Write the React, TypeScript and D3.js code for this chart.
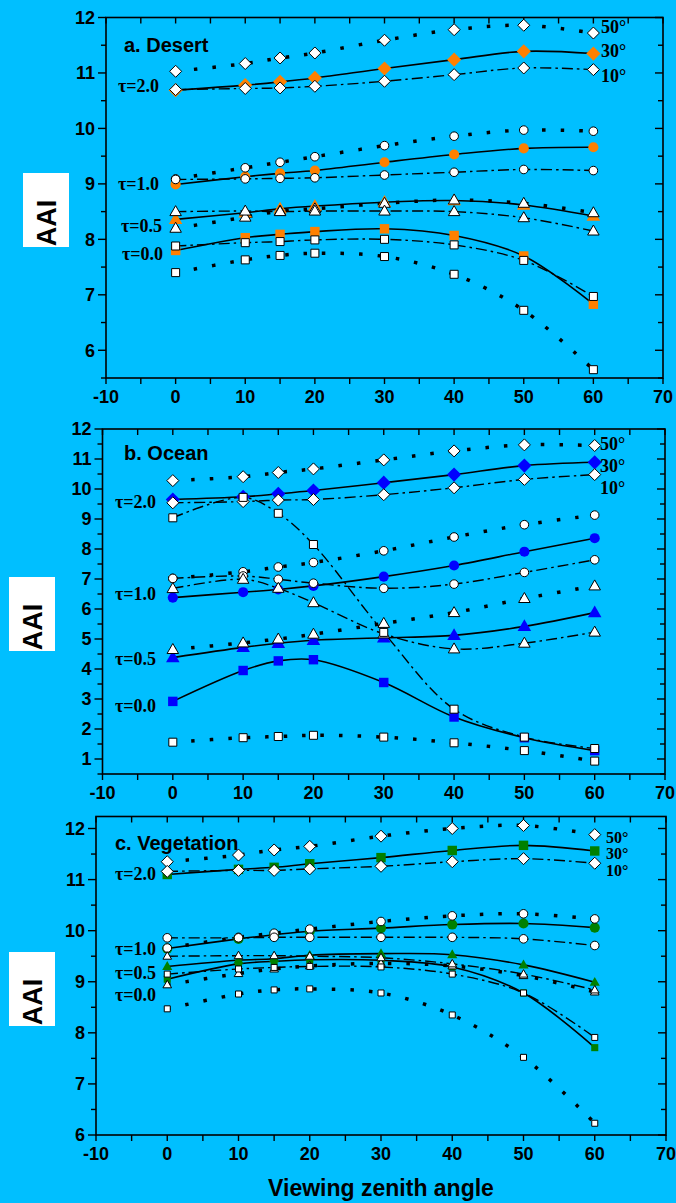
import React from 'react';
import * as d3 from 'd3';

// ---------- data ----------
const ANGLES = [0, 10, 15, 20, 30, 40, 50, 60];
const X_TICK_VALUES = [-10, 0, 10, 20, 30, 40, 50, 60, 70];
const VZA_LABELS = ['50°', '30°', '10°'];
const TAU_LABELS = ['τ=2.0', 'τ=1.0', 'τ=0.5', 'τ=0.0'];
const TAU_SHAPES = ['diamond', 'circle', 'triangle', 'square'];

// a. Desert
const DESERT_T20_50 = [11.03, 11.17, 11.27, 11.36, 11.59, 11.78, 11.86, 11.72];
const DESERT_T20_30 = [10.69, 10.78, 10.84, 10.91, 11.08, 11.24, 11.39, 11.35];
const DESERT_T20_10 = [10.70, 10.72, 10.73, 10.76, 10.85, 10.97, 11.09, 11.06];
const DESERT_T10_50 = [9.09, 9.29, 9.39, 9.49, 9.69, 9.86, 9.97, 9.95];
const DESERT_T10_30 = [8.99, 9.13, 9.19, 9.24, 9.39, 9.53, 9.64, 9.66];
const DESERT_T10_10 = [9.08, 9.09, 9.10, 9.11, 9.16, 9.21, 9.26, 9.24];
const DESERT_T05_50 = [8.20, 8.40, 8.51, 8.55, 8.65, 8.71, 8.65, 8.48];
const DESERT_T05_30 = [8.36, 8.48, 8.55, 8.60, 8.67, 8.70, 8.62, 8.42];
const DESERT_T05_10 = [8.50, 8.51, 8.50, 8.51, 8.51, 8.50, 8.39, 8.15];
const DESERT_T00_50 = [7.40, 7.63, 7.71, 7.75, 7.69, 7.37, 6.72, 5.65];
const DESERT_T00_30 = [7.80, 8.03, 8.09, 8.14, 8.19, 8.07, 7.70, 6.83];
const DESERT_T00_10 = [7.88, 7.94, 7.96, 7.99, 8.00, 7.90, 7.62, 6.97];

// b. Ocean
const OCEAN_T20_50 = [10.28, 10.41, 10.55, 10.67, 10.97, 11.27, 11.47, 11.45];
const OCEAN_T20_30 = [9.65, 9.74, 9.84, 9.95, 10.21, 10.48, 10.78, 10.89];
const OCEAN_T20_10 = [9.54, 9.58, 9.63, 9.65, 9.81, 10.04, 10.32, 10.48];
const OCEAN_T10_50 = [7.02, 7.24, 7.40, 7.55, 7.94, 8.40, 8.81, 9.13];
const OCEAN_T10_30 = [6.38, 6.56, 6.65, 6.77, 7.08, 7.45, 7.91, 8.36];
const OCEAN_T10_10 = [7.02, 7.10, 6.99, 6.86, 6.69, 6.83, 7.22, 7.64];
const OCEAN_T05_50 = [4.65, 4.87, 5.00, 5.16, 5.52, 5.88, 6.35, 6.77];
const OCEAN_T05_30 = [4.38, 4.72, 4.86, 4.96, 5.04, 5.12, 5.42, 5.88];
const OCEAN_T05_10 = [6.68, 6.99, 6.69, 6.21, 5.17, 4.67, 4.86, 5.23];
const OCEAN_T00_50 = [1.56, 1.71, 1.75, 1.79, 1.73, 1.54, 1.28, 0.93];
const OCEAN_T00_30 = [2.92, 3.95, 4.27, 4.31, 3.55, 2.40, 1.71, 1.28];
const OCEAN_T00_10 = [9.04, 9.72, 9.19, 8.15, 5.22, 2.66, 1.73, 1.35];

// c. Vegetation
const VEG_T20_50 = [11.35, 11.48, 11.58, 11.65, 11.85, 12.00, 12.06, 11.88];
const VEG_T20_30 = [11.10, 11.20, 11.24, 11.31, 11.43, 11.57, 11.67, 11.56];
const VEG_T20_10 = [11.16, 11.18, 11.18, 11.21, 11.26, 11.35, 11.41, 11.32];
const VEG_T10_50 = [9.66, 9.87, 9.95, 10.03, 10.18, 10.29, 10.33, 10.23];
const VEG_T10_30 = [9.65, 9.84, 9.92, 9.99, 10.05, 10.12, 10.14, 10.06];
const VEG_T10_10 = [9.86, 9.86, 9.87, 9.87, 9.87, 9.87, 9.84, 9.71];
const VEG_T05_50 = [8.94, 9.16, 9.25, 9.31, 9.36, 9.31, 9.12, 8.80];
const VEG_T05_30 = [9.30, 9.42, 9.45, 9.52, 9.55, 9.53, 9.33, 8.99];
const VEG_T05_10 = [9.50, 9.51, 9.51, 9.50, 9.47, 9.35, 9.15, 8.84];
const VEG_T00_50 = [8.47, 8.76, 8.84, 8.86, 8.78, 8.35, 7.52, 6.23];
const VEG_T00_30 = [9.05, 9.35, 9.40, 9.43, 9.42, 9.29, 8.78, 7.71];
const VEG_T00_10 = [9.15, 9.25, 9.28, 9.30, 9.29, 9.15, 8.78, 7.91];

const DESERT_Y_TICKS = [6, 7, 8, 9, 10, 11, 12];
const OCEAN_Y_TICKS = [1, 2, 3, 4, 5, 6, 7, 8, 9, 10, 11, 12];
const VEG_Y_TICKS = [6, 7, 8, 9, 10, 11, 12];

// ---------- layout / style ----------
const BG = '#00BFFF';
const SANS = "'Liberation Sans', Arial, sans-serif";
const SERIF = "'Liberation Serif', 'Times New Roman', serif";

const PANELS = [
  {
    title: 'a. Desert', color: '#FF8000',
    box: { l: 106, r: 663, t: 17.5, b: 378 }, yDomain: [5.5, 12], yTicks: DESERT_Y_TICKS,
    series: [[DESERT_T20_50, DESERT_T20_30, DESERT_T20_10], [DESERT_T10_50, DESERT_T10_30, DESERT_T10_10],
      [DESERT_T05_50, DESERT_T05_30, DESERT_T05_10], [DESERT_T00_50, DESERT_T00_30, DESERT_T00_10]],
    coloredShapes: ['diamond', 'circle', 'triangle', 'square'],
    titlePos: [124, 52], tauX: [118, 118, 121, 122], tauY: [92, 190, 232, 260],
    vzaX: 601, vzaY: [33, 57, 81.5], vzaSize: 18, aaiBox: [23, 173, 46, 74], small: [1, 1, 1, 1],
  },
  {
    title: 'b. Ocean', color: '#0000FF',
    box: { l: 102.5, r: 665, t: 429, b: 774 }, yDomain: [0.5, 12], yTicks: OCEAN_Y_TICKS,
    series: [[OCEAN_T20_50, OCEAN_T20_30, OCEAN_T20_10], [OCEAN_T10_50, OCEAN_T10_30, OCEAN_T10_10],
      [OCEAN_T05_50, OCEAN_T05_30, OCEAN_T05_10], [OCEAN_T00_50, OCEAN_T00_30, OCEAN_T00_10]],
    coloredShapes: ['diamond', 'circle', 'triangle', 'square'],
    titlePos: [124, 460], tauX: [115, 115, 115, 115], tauY: [508, 600, 665, 712],
    vzaX: 600, vzaY: [450, 472, 493.5], vzaSize: 18, aaiBox: [9, 577, 46, 74], small: [1, 1, 1, 1],
  },
  {
    title: 'c. Vegetation', color: '#008000',
    box: { l: 96, r: 666, t: 816.5, b: 1135 }, yDomain: [6, 12.235], yTicks: VEG_Y_TICKS,
    series: [[VEG_T20_50, VEG_T20_30, VEG_T20_10], [VEG_T10_50, VEG_T10_30, VEG_T10_10],
      [VEG_T05_50, VEG_T05_30, VEG_T05_10], [VEG_T00_50, VEG_T00_30, VEG_T00_10]],
    coloredShapes: ['square', 'circle', 'triangle', 'square'],
    titlePos: [115, 850], tauX: [115, 115, 115, 115], tauY: [880, 955, 979, 1001],
    vzaX: 606, vzaY: [843, 859, 876], vzaSize: 16, aaiBox: [9, 952, 46, 74], small: [1, 1, 0.75, 0.75],
  },
];

const LINE_STYLES = [
  { dash: '3.5 15', width: 3.5 },
  { dash: null, width: 1.6 },
  { dash: '11 4 2.5 4', width: 1.4 },
];

function markerPath(shape: string, s: number) {
  switch (shape) {
    case 'diamond':
      return `M0,${-s}L${s},0L0,${s}L${-s},0Z`;
    case 'square':
      return `M${-s},${-s}H${s}V${s}H${-s}Z`;
    case 'triangle':
      return `M0,${-s * 1.2}L${s * 1.15},${s * 0.8}L${-s * 1.15},${s * 0.8}Z`;
    default:
      return d3.arc()({ innerRadius: 0, outerRadius: s, startAngle: 0, endAngle: Math.PI * 2 }) as string;
  }
}

const BASE_SIZE: Record<string, number> = { diamond: 6, circle: 4.3, triangle: 5, square: 4 };

function Panel({ p }: { p: any }) {
  const { box } = p;
  const x = d3.scaleLinear().domain([-10, 70]).range([box.l, box.r]);
  const y = d3.scaleLinear().domain(p.yDomain).range([box.b, box.t]);
  const line = d3.line<number>()
    .x((_, i) => x(ANGLES[i]))
    .y((d) => y(d))
    .curve(d3.curveCatmullRom.alpha(0.5));

  const xMinor = d3.range(-10, 70.01, 5);
  const yMinor = d3.range(Math.ceil(p.yDomain[0] * 2) / 2, p.yDomain[1] + 0.001, 0.5);

  const colored: any[] = [];
  const white: any[] = [];
  p.series.forEach((group: number[][], ti: number) => {
    group.forEach((vals, vi) => {
      const isColored = vi === 1;
      const shape = isColored ? p.coloredShapes[ti] : TAU_SHAPES[ti];
      vals.forEach((v, i) => {
        const s = BASE_SIZE[shape] * p.small[ti] * (isColored ? 1.18 : 1);
        const el = (
          <path
            key={`m${ti}-${vi}-${i}`}
            d={markerPath(shape, s)}
            transform={`translate(${x(ANGLES[i])},${y(v)})`}
            fill={isColored ? p.color : '#fff'}
            stroke={isColored ? 'none' : '#000'}
            strokeWidth={1}
          />
        );
        (isColored ? colored : white).push(el);
      });
    });
  });

  const [bx, by, bw, bh] = p.aaiBox;
  return (
    <g>
      {/* AAI label */}
      <rect x={bx} y={by} width={bw} height={bh} fill="#fff" />
      <text
        transform={`translate(${bx + bw / 2 + 9.5},${by + bh - 24}) rotate(-90)`}
        textAnchor="middle" fontFamily={SANS} fontWeight="bold" fontSize={27} fill="#000"
      >AAI</text>

      {/* frame */}
      <rect x={box.l} y={box.t} width={box.r - box.l} height={box.b - box.t} fill="none" stroke="#000" strokeWidth={1.6} />

      {/* x ticks */}
      {xMinor.map((t) => (
        <g key={`xt${t}`}>
          <line x1={x(t)} x2={x(t)} y1={box.b} y2={box.b + 6} stroke="#000" strokeWidth={1.4} />
          <line x1={x(t)} x2={x(t)} y1={box.t} y2={box.t + 6} stroke="#000" strokeWidth={1.4} />
        </g>
      ))}
      {X_TICK_VALUES.map((t) => (
        <text key={`xl${t}`} x={x(t)} y={box.b + 25} textAnchor="middle" fontFamily={SANS} fontWeight="bold" fontSize={18} fill="#000">{t}</text>
      ))}

      {/* y ticks */}
      {yMinor.map((t: number) => {
        const major = Math.abs(t - Math.round(t)) < 1e-6;
        const len = major ? 8 : 5;
        return (
          <g key={`yt${t}`}>
            <line x1={box.l - len} x2={box.l} y1={y(t)} y2={y(t)} stroke="#000" strokeWidth={1.4} />
            <line x1={box.r - len} x2={box.r} y1={y(t)} y2={y(t)} stroke="#000" strokeWidth={1.4} />
          </g>
        );
      })}
      {p.yTicks.map((t: number) => (
        <text key={`yl${t}`} x={box.l - 11} y={y(t)} dy="0.35em" textAnchor="end" fontFamily={SANS} fontWeight="bold" fontSize={18} fill="#000">{t}</text>
      ))}

      {/* lines */}
      {p.series.map((group: number[][], ti: number) =>
        group.map((vals, vi) => (
          <path
            key={`l${ti}-${vi}`}
            d={line(vals) as string}
            fill="none"
            stroke="#000"
            strokeWidth={LINE_STYLES[vi].width}
            strokeDasharray={LINE_STYLES[vi].dash ?? undefined}
          />
        ))
      )}
      {colored}
      {white}

      {/* labels */}
      <text x={p.titlePos[0]} y={p.titlePos[1]} fontFamily={SANS} fontWeight="bold" fontSize={20} fill="#000">{p.title}</text>
      {TAU_LABELS.map((t, i) => (
        <text key={`tau${i}`} x={p.tauX[i]} y={p.tauY[i]} fontFamily={SERIF} fontWeight="bold" fontSize={18} fill="#000">{t}</text>
      ))}
      {VZA_LABELS.map((t, i) => (
        <text key={`vza${i}`} x={p.vzaX} y={p.vzaY[i]} fontFamily={SERIF} fontWeight="bold" fontSize={p.vzaSize} fill="#000">{t}</text>
      ))}
    </g>
  );
}

export default function App() {
  return (
    <svg
      width={676}
      height={1203}
      viewBox="0 0 676 1203"
      style={{ position: 'absolute', left: 0, top: 0, display: 'block' }}
    >
      <rect x={0} y={0} width={676} height={1203} fill={BG} />
      {PANELS.map((p, i) => <Panel key={i} p={p} />)}
      <text x={381} y={1196} textAnchor="middle" fontFamily={SANS} fontWeight="bold" fontSize={23} fill="#000">Viewing zenith angle</text>
    </svg>
  );
}
